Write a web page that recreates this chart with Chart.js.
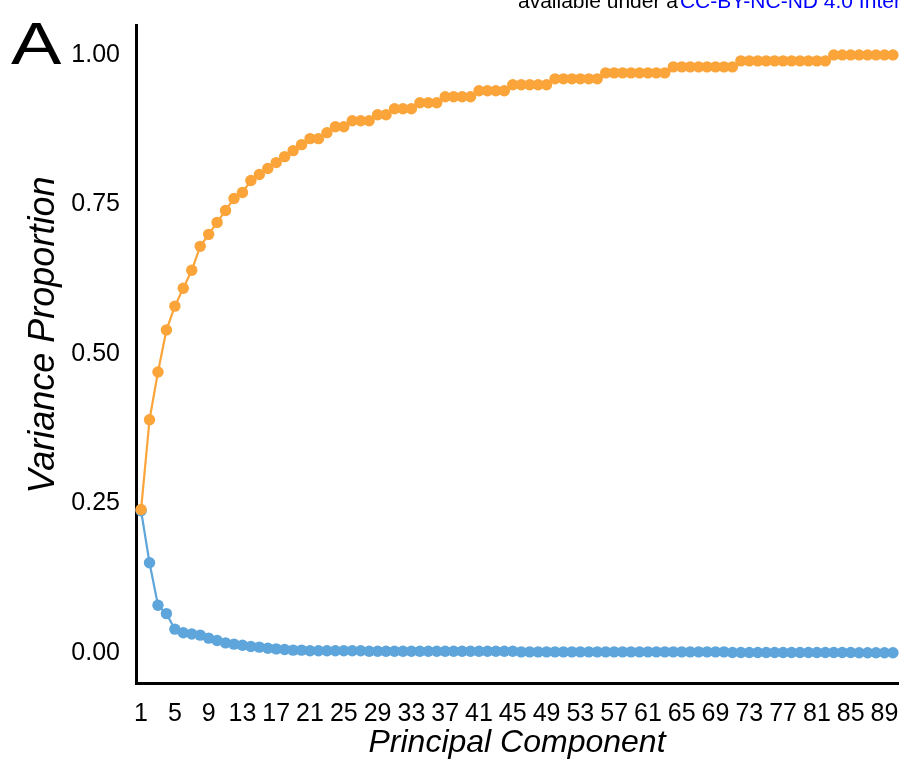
<!DOCTYPE html>
<html>
<head>
<meta charset="utf-8">
<script src="https://cdn.jsdelivr.net/npm/chart.js@4.4.1/dist/chart.umd.min.js"></script>
<style>
  body { margin: 0; background: #fff; }
</style>
</head>
<body>
<canvas id="pcaChart" width="907" height="763"></canvas>
<script>
// principal component index
const components = [
  1, 2, 3, 4, 5, 6, 7, 8, 9, 10,
  11, 12, 13, 14, 15, 16, 17, 18, 19, 20,
  21, 22, 23, 24, 25, 26, 27, 28, 29, 30,
  31, 32, 33, 34, 35, 36, 37, 38, 39, 40,
  41, 42, 43, 44, 45, 46, 47, 48, 49, 50,
  51, 52, 53, 54, 55, 56, 57, 58, 59, 60,
  61, 62, 63, 64, 65, 66, 67, 68, 69, 70,
  71, 72, 73, 74, 75, 76, 77, 78, 79, 80,
  81, 82, 83, 84, 85, 86, 87, 88, 89, 90,
];

// cumulative variance proportion (orange)
const cumulative = [
  0.24, 0.39, 0.47, 0.54, 0.58, 0.61, 0.64, 0.68, 0.70, 0.72,
  0.74, 0.76, 0.77, 0.79, 0.80, 0.81, 0.82, 0.83, 0.84, 0.85,
  0.86, 0.86, 0.87, 0.88, 0.88, 0.89, 0.89, 0.89, 0.90, 0.90,
  0.91, 0.91, 0.91, 0.92, 0.92, 0.92, 0.93, 0.93, 0.93, 0.93,
  0.94, 0.94, 0.94, 0.94, 0.95, 0.95, 0.95, 0.95, 0.95, 0.96,
  0.96, 0.96, 0.96, 0.96, 0.96, 0.97, 0.97, 0.97, 0.97, 0.97,
  0.97, 0.97, 0.97, 0.98, 0.98, 0.98, 0.98, 0.98, 0.98, 0.98,
  0.98, 0.99, 0.99, 0.99, 0.99, 0.99, 0.99, 0.99, 0.99, 0.99,
  0.99, 0.99, 1.00, 1.00, 1.00, 1.00, 1.00, 1.00, 1.00, 1.00,
];

// individual variance proportion (blue)
const individual = [
  0.238, 0.151, 0.080, 0.066, 0.040, 0.034, 0.032, 0.030, 0.025, 0.021,
  0.017, 0.015, 0.013, 0.011, 0.010, 0.008, 0.007, 0.006, 0.005, 0.005,
  0.004, 0.004, 0.004, 0.004, 0.004, 0.004, 0.004, 0.003, 0.003, 0.003,
  0.003, 0.003, 0.003, 0.003, 0.003, 0.003, 0.003, 0.003, 0.003, 0.003,
  0.003, 0.003, 0.003, 0.003, 0.003, 0.002, 0.002, 0.002, 0.002, 0.002,
  0.002, 0.002, 0.002, 0.002, 0.002, 0.002, 0.002, 0.002, 0.002, 0.002,
  0.002, 0.002, 0.002, 0.002, 0.002, 0.002, 0.002, 0.002, 0.002, 0.002,
  0.001, 0.001, 0.001, 0.001, 0.001, 0.001, 0.001, 0.001, 0.001, 0.001,
  0.001, 0.001, 0.001, 0.001, 0.001, 0.0005, 0.0005, 0.0005, 0.0005, 0.0005,
];

const xTicks = [1, 5, 9, 13, 17, 21, 25, 29, 33, 37, 41, 45, 49, 53, 57, 61, 65, 69, 73, 77, 81, 85, 89];
const yTicks = [0, 0.25, 0.5, 0.75, 1.0];

const FONT = "'Liberation Sans', Arial, Helvetica, sans-serif";
const ORANGE = "#FAA43A";
const BLUE = "#5DA5DA";

function toPoints(values) {
  return values.map((v, i) => ({ x: components[i], y: v }));
}

// panel letter, y title and the cut-off licence line at the top
const extraText = {
  id: "extraText",
  afterDraw(chart) {
    const c = chart.ctx;
    c.save();
    c.fillStyle = "#000";
    c.textBaseline = "alphabetic";

    // big "A", a bit wider than the plain font
    c.save();
    c.translate(11, 64);
    c.scale(1.28, 1);
    c.font = "59px " + FONT;
    c.fillText("A", 0, 0);
    c.restore();

    // y axis title, sits a little above the axis centre in the original
    c.save();
    c.translate(44, 335);
    c.rotate(-Math.PI / 2);
    c.textAlign = "center";
    c.textBaseline = "middle";
    c.font = "italic 36px " + FONT;
    c.fillText("Variance Proportion", 0, 0);
    c.restore();

    c.font = "21px " + FONT;
    const part1 = "available under a";
    c.fillText(part1, 518, 8);
    const w = c.measureText(part1).width;
    c.fillStyle = "#0000FF";
    c.fillText("CC-BY-NC-ND 4.0 Inter", 518 + w + 2, 8);
    c.restore();
  },
};

const data = {
  datasets: [
    {
      label: "Cumulative",
      data: toPoints(cumulative),
      borderColor: ORANGE,
      backgroundColor: ORANGE,
      borderWidth: 2.2,
      pointRadius: 5.7,
      pointBorderWidth: 0,
      pointBackgroundColor: ORANGE,
      tension: 0,
    },
    {
      label: "Individual",
      data: toPoints(individual),
      borderColor: BLUE,
      backgroundColor: BLUE,
      borderWidth: 2.2,
      pointRadius: 5.7,
      pointBorderWidth: 0,
      pointBackgroundColor: BLUE,
      tension: 0,
    },
  ],
};

const config = {
  type: "line",
  data: data,
  options: {
    responsive: false,
    animation: false,
    clip: false,
    layout: {
      padding: { left: 0, top: 25, right: 9, bottom: 0 },
    },
    plugins: {
      legend: { display: false },
      tooltip: { enabled: false },
    },
    scales: {
      x: {
        type: "linear",
        min: 0.4,
        max: 90.6,
        grid: { display: false, drawTicks: false },
        border: { display: true, color: "#000", width: 3 },
        afterBuildTicks: (scale) => {
          scale.ticks = xTicks.map((v) => ({ value: v }));
        },
        afterFit: (scale) => {
          scale.height = 80;
          scale.paddingLeft = 0;
          scale.paddingRight = 0;
        },
        ticks: {
          autoSkip: false,
          maxRotation: 0,
          padding: 16,
          color: "#000",
          font: { family: FONT, size: 25 },
          callback: (v) => String(v),
        },
        title: {
          display: true,
          text: "Principal Component",
          color: "#000",
          font: { family: FONT, size: 32, style: "italic" },
          padding: { top: 0, bottom: 1 },
        },
      },
      y: {
        min: -0.05,
        max: 1.05,
        grid: { display: false, drawTicks: false },
        border: { display: true, color: "#000", width: 3 },
        afterBuildTicks: (scale) => {
          scale.ticks = yTicks.map((v) => ({ value: v }));
        },
        afterFit: (scale) => {
          scale.width = 136;
          scale.paddingTop = 0;
          scale.paddingBottom = 0;
        },
        ticks: {
          padding: 16,
          color: "#000",
          font: { family: FONT, size: 25 },
          callback: (v) => v.toFixed(2),
        },
        title: { display: false },
      },
    },
  },
  plugins: [extraText],
};

const ctx = document.getElementById("pcaChart").getContext("2d");
const myChart = new Chart(ctx, config);
</script>
</body>
</html>
